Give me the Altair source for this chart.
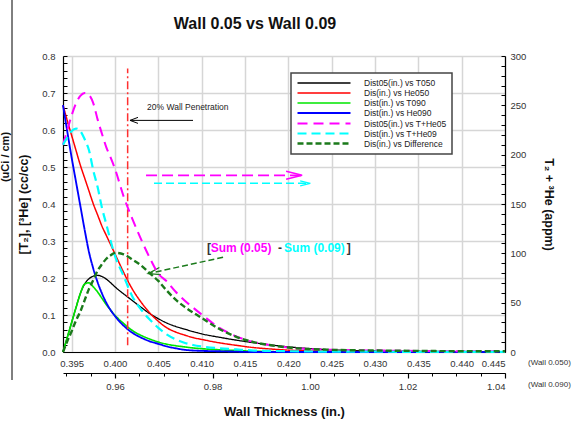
import altair as alt
import pandas as pd

FONT = "Liberation Sans"

# ---------------- data ----------------
x_in = [0.394, 0.3945, 0.395, 0.3955, 0.396, 0.3965, 0.397, 0.3975, 0.398, 0.3985,
        0.399, 0.3995, 0.400, 0.401, 0.402, 0.403, 0.404, 0.405, 0.406, 0.407,
        0.408, 0.409, 0.410, 0.412, 0.414, 0.416, 0.418, 0.420, 0.425, 0.430,
        0.435, 0.440, 0.445]
# left axis (cc/cc)
t050 = [0.0, 0.04, 0.08, 0.12, 0.158, 0.184, 0.198, 0.205, 0.207, 0.204,
        0.197, 0.187, 0.176, 0.157, 0.139, 0.121, 0.104, 0.09, 0.078, 0.069,
        0.062, 0.055, 0.049, 0.04, 0.032, 0.025, 0.019, 0.014, 0.006, 0.003,
        0.002, 0.001, 0.001]
he050 = [0.667, 0.625, 0.585, 0.545, 0.505, 0.47, 0.435, 0.40, 0.37, 0.34,
         0.315, 0.29, 0.265, 0.215, 0.17, 0.135, 0.106, 0.083, 0.065, 0.054,
         0.046, 0.039, 0.034, 0.025, 0.018, 0.012, 0.008, 0.005, 0.002, 0.001,
         0.0, 0.0, 0.0]
t090 = [0.0, 0.04, 0.08, 0.12, 0.158, 0.184, 0.187, 0.176, 0.162, 0.145,
        0.128, 0.113, 0.099, 0.077, 0.058, 0.045, 0.035, 0.027, 0.021, 0.017,
        0.014, 0.011, 0.009, 0.006, 0.004, 0.002, 0.001, 0.0, 0.0, 0.0,
        0.0, 0.0, 0.0]
he090 = [0.667, 0.595, 0.525, 0.46, 0.395, 0.33, 0.27, 0.225, 0.188, 0.158,
         0.133, 0.113, 0.097, 0.071, 0.052, 0.039, 0.029, 0.022, 0.015, 0.010,
         0.006, 0.004, 0.003, 0.002, 0.001, 0.0, 0.0, 0.0, 0.0, 0.0,
         0.0, 0.0, 0.0]
# right axis (appm)
the05 = [210, 225, 240, 252, 259.5, 262.5, 260.6, 252, 235.5, 221,
         207.4, 197, 185.6, 157.5, 135, 114.4, 95.6, 79.5, 71.3, 61,
         52.5, 45, 38, 24.8, 15.8, 10, 6.8, 4.5, 2.2, 1.5,
         1.1, 0.8, 0.8]
the09 = [210, 217.5, 224, 226.5, 224, 215.6, 204.4, 183.8, 166.9, 146,
         129.4, 112.5, 97.5, 76.9, 56.3, 43.1, 33, 24.4, 17.6, 12.8,
         9.4, 7.1, 5.6, 3.8, 2.6, 1.5, 1.1, 0.8, 0.4, 0.3,
         0.2, 0.2, 0.2]
diff = [0, 11, 21, 32, 41, 52.5, 64, 73, 82.5, 89,
        94.5, 98, 100.5, 99, 93.8, 87.8, 80, 72, 62, 53,
        46, 40, 34.5, 23.6, 15.4, 10, 6.8, 4.5, 2.2, 1.5,
        1.1, 0.8, 0.8]

names = ["Dist05(in.) vs T050", "Dis(in.) vs He050", "Dist(in.) vs T090",
         "Dist(in.) vs He090", "Dist05(in.) vs T+He05", "Dist(in.) vs T+He09",
         "Dis(in.) vs Difference"]
colors = ["#000000", "#ff0000", "#00e600", "#0000ff", "#ff00ff", "#00ffff", "#1b7a1b"]
dashes = [[1, 0], [1, 0], [1, 0], [1, 0], [10, 6], [9, 5], [6, 3]]
widths = [1.3, 2.4, 2.4, 2.4, 2.4, 2.4, 2.2]

x_ticks = [0.395, 0.400, 0.405, 0.410, 0.415, 0.420, 0.425, 0.430, 0.435, 0.440, 0.445]
x2_ticks = [0.96, 0.98, 1.00, 1.02, 1.04]
y_left_ticks = [0.0, 0.1, 0.2, 0.3, 0.4, 0.5, 0.6, 0.7, 0.8]
y_right_ticks = [0, 50, 100, 150, 200, 250, 300]

# annotation anchors (data units of the left scale)
pen_x = 0.40146
pen_y = [0.018, 0.766]
pen_text = (0.4037, 0.661)
pen_arrow = (0.409, 0.40173, 0.626)
mag_arrow = (0.40358, 0.42159, 0.4776)
cy_arrow = (0.4045, 0.42252, 0.456)
gr_arrow = (0.41247, 0.256, 0.40385, 0.212)
sum_y = 0.282
sum_parts = [("[", 0.41062, "#333333"), ("Sum (0.05)", 0.41105, "#ff00ff"),
             ("-", 0.41882, "#333333"), ("Sum (0.09)", 0.41951, "#00ffff"),
             ("]", 0.42675, "#333333")]

X_DOM = [0.394, 0.445]
# bottom axis for the 0.090 wall: 0.400 <-> 0.96, 0.445 <-> 1.04
X2_DOM = [0.96 + (X_DOM[0] - 0.400) * (1.04 - 0.96) / (0.445 - 0.400), 1.04]

# ---------------- tables ----------------
left_df = pd.DataFrame([{"x": x, "y": v, "series": n}
                        for n, vals in zip(names[:4], [t050, he050, t090, he090])
                        for x, v in zip(x_in, vals)])
right_df = pd.DataFrame([{"x": x, "y": v, "series": n}
                         for n, vals in zip(names[4:], [the05, the09, diff])
                         for x, v in zip(x_in, vals)])

leg = alt.Legend(title=None, orient="none", legendX=228, legendY=17,
                 symbolType="M-1,0H12.25", symbolSize=64, symbolStrokeWidth=2,
                 labelFont=FONT, labelFontSize=8.5, labelColor="#222222",
                 labelOffset=57, rowPadding=0, labelLimit=300, values=names)

color = alt.Color("series:N", scale=alt.Scale(domain=names, range=colors), legend=leg)
sdash = alt.StrokeDash("series:N", scale=alt.Scale(domain=names, range=dashes), legend=leg)
swidth = alt.StrokeWidth("series:N", scale=alt.Scale(domain=names, range=widths), legend=None)

xs = alt.Scale(domain=X_DOM, nice=False, zero=False)
ys_left = alt.Scale(domain=[0, 0.8], nice=False)
ys_right = alt.Scale(domain=[0, 300], nice=False)

x_axis = alt.Axis(orient="bottom", values=x_ticks, format=".3f", grid=True,
                  gridColor="#d6d6d6", gridWidth=1.5, ticks=False, labelPadding=6,
                  domainColor="#000000", domainWidth=1.2, labelFontSize=9.5,
                  labelColor="#333333", title=None)
y_axis = alt.Axis(orient="left", values=y_left_ticks, format=".1f", grid=True,
                  gridColor="#d6d6d6", gridWidth=1.5, ticks=False, labelPadding=8,
                  domainColor="#000000", domainWidth=1.2, labelFontSize=9.5,
                  labelColor="#333333", title="[T₂], [³He] (cc/cc)",
                  titleFontSize=12.5, titleFontWeight="bold", titleColor="#111111",
                  titlePadding=11)

lines_left = alt.Chart(left_df).mark_line(interpolate="monotone").encode(
    x=alt.X("x:Q", scale=xs, axis=x_axis),
    y=alt.Y("y:Q", scale=ys_left, axis=y_axis),
    color=color, strokeDash=sdash, strokeWidth=swidth,
    order=alt.Order("x:Q"),
)

one = pd.DataFrame({"k": [0]})


def XD(v):
    return alt.XDatum(v, scale=xs, axis=None)


def YD(v):
    return alt.YDatum(v, scale=ys_left, axis=None)


pen_rule = alt.Chart(one).mark_rule(color="#ff3030", strokeWidth=1.5,
                                    strokeDash=[8, 3, 2, 3]).encode(
    x=XD(pen_x), y=YD(pen_y[0]), y2=alt.datum(pen_y[1]))
pen_label = alt.Chart(one).mark_text(text="20% Wall Penetration", align="left",
                                     baseline="middle", font=FONT, fontSize=8.5,
                                     color="#222222").encode(
    x=XD(pen_text[0]), y=YD(pen_text[1]))
pen_line = alt.Chart(one).mark_rule(color="#000000", strokeWidth=1).encode(
    x=XD(pen_arrow[0]), x2=alt.datum(pen_arrow[1]), y=YD(pen_arrow[2]))
pen_head = alt.Chart(one).mark_point(shape="M2,-0.75L0,0L2,0.75", filled=False,
                                     size=64, color="#000000", strokeWidth=1,
                                     opacity=1).encode(
    x=XD(pen_arrow[1]), y=YD(pen_arrow[2]))

mag_line = alt.Chart(one).mark_rule(color="#ff00ff", strokeWidth=1.8,
                                    strokeDash=[11, 5]).encode(
    x=XD(mag_arrow[0]), x2=alt.datum(mag_arrow[1]), y=YD(mag_arrow[2]))
mag_head = alt.Chart(one).mark_point(shape="M-2,-0.5L0,0L-2,0.5", filled=False,
                                     size=256, color="#ff00ff", strokeWidth=1.5,
                                     opacity=1).encode(
    x=XD(mag_arrow[1]), y=YD(mag_arrow[2]))
cy_line = alt.Chart(one).mark_rule(color="#00ffff", strokeWidth=1.4,
                                   strokeDash=[8, 4]).encode(
    x=XD(cy_arrow[0]), x2=alt.datum(cy_arrow[1]), y=YD(cy_arrow[2]))
cy_head = alt.Chart(one).mark_point(shape="M-2,-0.5L0,0L-2,0.5", filled=False,
                                    size=100, color="#00ffff", strokeWidth=1.3,
                                    opacity=1).encode(
    x=XD(cy_arrow[1]), y=YD(cy_arrow[2]))
gr_line = alt.Chart(one).mark_rule(color="#1b7a1b", strokeWidth=1.5,
                                   strokeDash=[6, 3]).encode(
    x=XD(gr_arrow[0]), y=YD(gr_arrow[1]),
    x2=alt.datum(gr_arrow[2]), y2=alt.datum(gr_arrow[3]))
gr_head = alt.Chart(one).mark_point(shape="M2,-0.6L0,0L2,0.6", filled=False,
                                    size=144, color="#1b7a1b", strokeWidth=1.3,
                                    angle=348, opacity=1).encode(
    x=XD(gr_arrow[2]), y=YD(gr_arrow[3]))

sum_layers = [
    alt.Chart(one).mark_text(text=t, align="left", baseline="middle", font=FONT,
                             fontSize=12, fontWeight="bold", color=c).encode(
        x=XD(xp), y=YD(sum_y))
    for t, xp, c in sum_parts
]

frame_line = alt.Chart(one).mark_rule(color="#000000", strokeWidth=1).encode(
    x=alt.value(-51), y=alt.value(-56), y2=alt.value(324))
uci_text = alt.Chart(one).mark_text(text="(uCi / cm)", angle=270, align="center",
                                    baseline="middle", font=FONT, fontSize=11,
                                    fontWeight="bold", color="#111111").encode(
    x=alt.value(-57), y=alt.value(101))
wall1 = alt.Chart(one).mark_text(text="(Wall 0.050)", align="left", baseline="middle",
                                 font=FONT, fontSize=8, color="#333333").encode(
    x=alt.value(465), y=alt.value(307))
wall2 = alt.Chart(one).mark_text(text="(Wall 0.090)", align="left", baseline="middle",
                                 font=FONT, fontSize=8, color="#333333").encode(
    x=alt.value(465), y=alt.value(329))

annotations = alt.layer(pen_rule, pen_label, pen_line, pen_head,
                        mag_line, mag_head, cy_line, cy_head, gr_line, gr_head,
                        *sum_layers, frame_line, uci_text, wall1, wall2)

# inward minor ticks on the left axis
left_ticks = alt.Chart(pd.DataFrame({"v": [0.0, 0.8]})).mark_point(opacity=0).encode(
    y=alt.Y("v:Q", scale=ys_left, axis=alt.Axis(
        orient="left", values=[round(i * 0.02, 2) for i in range(41)], labels=False,
        domain=False, grid=False, ticks=True, tickSize=4, tickColor="#000000",
        tickWidth=1, offset=-4, title=None)))

right_axis = alt.Axis(orient="right", values=y_right_ticks, format="d", grid=False,
                      ticks=False, labelPadding=5, domainColor="#000000",
                      domainWidth=1.2, labelFontSize=9.5, labelColor="#333333",
                      title="T₂ + ³He (appm)", titleFontSize=12.5,
                      titleFontWeight="bold", titleColor="#111111", titlePadding=16)
lines_right = alt.Chart(right_df).mark_line(interpolate="monotone").encode(
    x=alt.X("x:Q", scale=xs, axis=None),
    y=alt.Y("y:Q", scale=ys_right, axis=right_axis),
    color=color, strokeDash=sdash, strokeWidth=swidth,
    order=alt.Order("x:Q"),
)
right_ticks = alt.Chart(pd.DataFrame({"v": [0, 300]})).mark_point(opacity=0).encode(
    y=alt.Y("v:Q", scale=ys_right, axis=alt.Axis(
        orient="right", values=list(range(0, 301, 10)), labels=False, domain=False,
        grid=False, ticks=True, tickSize=4, tickColor="#000000", tickWidth=1,
        offset=-4, title=None)))

x2s = alt.Scale(domain=X2_DOM, nice=False, zero=False)
x2_axis = alt.Chart(pd.DataFrame({"v": X2_DOM})).mark_point(opacity=0).encode(
    x=alt.X("v:Q", scale=x2s, axis=alt.Axis(
        orient="bottom", offset=21, values=x2_ticks, format=".2f", grid=False,
        ticks=True, tickSize=5, tickColor="#000000", tickWidth=1.2,
        domainColor="#000000", domainWidth=1.2, labelFontSize=9.5,
        labelColor="#333333", labelPadding=3, title="Wall Thickness (in.)",
        titleFontSize=13, titleFontWeight="bold", titleColor="#111111",
        titlePadding=15)))
x2_minor = alt.Chart(pd.DataFrame({"v": X2_DOM})).mark_point(opacity=0).encode(
    x=alt.X("v:Q", scale=x2s, axis=alt.Axis(
        orient="bottom", offset=21, values=[round(0.95 + i * 0.005, 3) for i in range(19)],
        labels=False, domain=False, grid=False, ticks=True, tickSize=3,
        tickColor="#000000", tickWidth=1, title=None)))

chart = alt.layer(
    lines_left, annotations, left_ticks, lines_right, right_ticks, x2_axis, x2_minor
).resolve_scale(
    x="independent", y="independent"
).properties(
    width=442, height=296,
    autosize=alt.AutoSizeParams(type="none"),
    padding={"left": 63, "top": 56, "right": 81, "bottom": 70},
    title=alt.TitleParams("Wall 0.05 vs Wall 0.09", font=FONT, fontSize=16,
                          fontWeight="bold", color="#111111", anchor="middle",
                          frame="group", dx=-29, offset=-32),
).configure_view(
    stroke=None
).configure_axis(
    labelFont=FONT, titleFont=FONT
).configure_legend(
    strokeColor="#444444", strokeWidth=1.5, fillColor="#ffffff", padding=5
)

chart.save("out.html", embed_options={"renderer": "svg", "actions": False})
